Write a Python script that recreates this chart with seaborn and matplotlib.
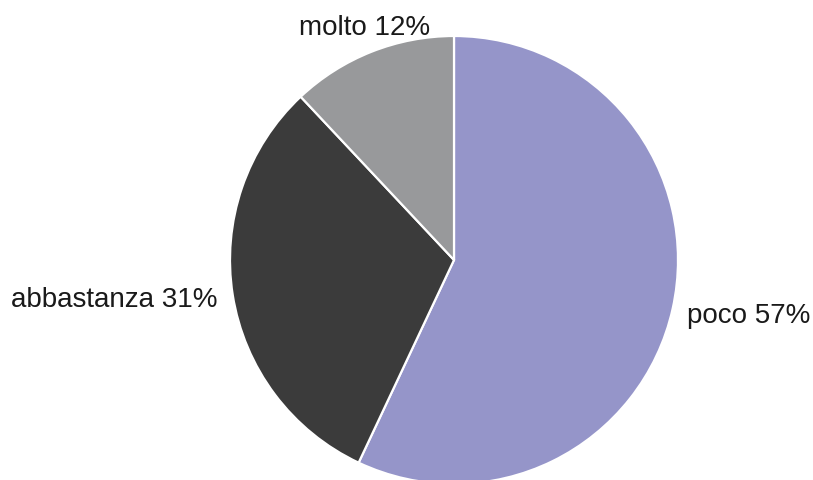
import matplotlib
matplotlib.use("Agg")
import matplotlib.pyplot as plt
import seaborn as sns

# data
categories = ["poco", "abbastanza", "molto"]
shares = [57, 31, 12]
slice_colors = ["#9595C9", "#3B3B3B", "#98999B"]

sns.set_theme(style="white")
plt.rcParams['font.family'] = ['Liberation Sans', 'DejaVu Sans']

fig = plt.figure(figsize=(8.13, 4.8), dpi=100)
ax = fig.add_axes([0, 0, 1, 1])

palette = sns.color_palette(slice_colors)
wedges, _ = ax.pie(shares, colors=palette, startangle=90, counterclock=False,
                   radius=1, wedgeprops=dict(edgecolor="white", linewidth=1.6))

# label placement (radius units from the pie centre)
R = 224
cx, cy = 454, 260
label_pos = [(1.04, -0.25, "left"), (-1.055, -0.18, "right"), (-0.40, 1.034, "center")]
for cat, val, (x, y, ha) in zip(categories, shares, label_pos):
    ax.text(x, y, f"{cat} {val}%", ha=ha, va="center", fontsize=20, color="#1a1a1a")

ax.set_xlim(-cx / R, (813 - cx) / R)
ax.set_ylim(-(480 - cy) / R, cy / R)
ax.set_aspect("auto")
ax.axis("off")

plt.savefig("out.png", dpi=100)
